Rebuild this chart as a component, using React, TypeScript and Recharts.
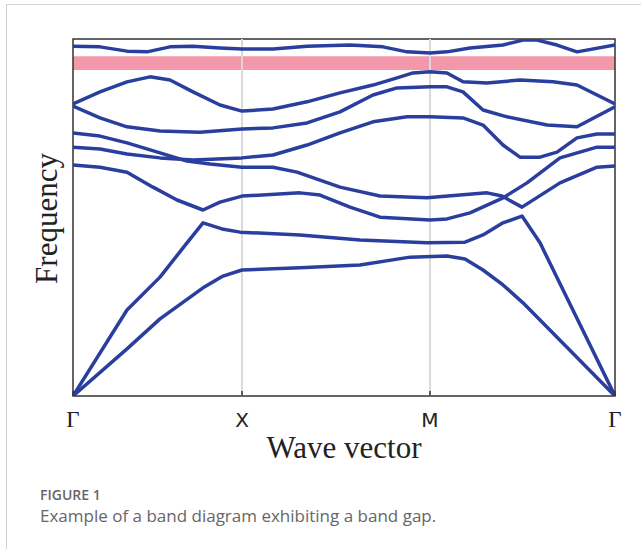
import {
  LineChart,
  Line,
  XAxis,
  YAxis,
  ReferenceArea,
  ReferenceLine,
  Label,
} from 'recharts';

// path positions along the Brillouin zone (plot units) and their symbols
const pathTicks = [0, 169, 357, 542];
const pathLabels = ['Γ', 'X', 'M', 'Γ'];

// band gap limits (normalised frequency)
const gapLow = 0.913;
const gapHigh = 0.952;

// bands as [k, frequency] pairs
const band1 = [
  [0, 0], [54, 0.132], [87, 0.216], [130, 0.303], [150, 0.336], [169, 0.353],
  [227, 0.359], [287, 0.367], [337, 0.389], [374, 0.392], [392, 0.384],
  [410, 0.353], [430, 0.311], [450, 0.261], [542, 0],
];
const band2 = [
  [0, 0], [54, 0.241], [87, 0.333], [114, 0.429], [130, 0.485], [149, 0.468],
  [167, 0.459], [227, 0.451], [287, 0.437], [354, 0.429], [392, 0.431],
  [410, 0.451], [430, 0.485], [449, 0.504], [467, 0.429], [542, 0],
];
const band3 = [
  [0, 0.647], [27, 0.641], [54, 0.627], [80, 0.585], [104, 0.549], [130, 0.521],
  [147, 0.543], [169, 0.56], [227, 0.569], [247, 0.563], [277, 0.529],
  [307, 0.501], [357, 0.493], [374, 0.496], [397, 0.513], [430, 0.555],
  [454, 0.597], [487, 0.667], [524, 0.697], [542, 0.697],
];
const band4 = [
  [0, 0.737], [27, 0.728], [54, 0.709], [87, 0.681], [114, 0.658], [137, 0.65],
  [169, 0.641], [200, 0.641], [224, 0.627], [267, 0.585], [307, 0.56],
  [354, 0.555], [414, 0.569], [429, 0.56], [449, 0.529], [487, 0.597],
  [524, 0.641], [542, 0.644],
];
const band5 = [
  [0, 0.697], [27, 0.692], [54, 0.678], [87, 0.667], [120, 0.661], [169, 0.667],
  [200, 0.675], [234, 0.703], [267, 0.737], [300, 0.768], [334, 0.782],
  [357, 0.782], [390, 0.779], [410, 0.759], [430, 0.703], [447, 0.669],
  [467, 0.669], [484, 0.683], [504, 0.723], [524, 0.734], [542, 0.734],
];
const band6 = [
  [0, 0.812], [27, 0.779], [54, 0.754], [87, 0.742], [127, 0.739], [169, 0.748],
  [200, 0.751], [234, 0.765], [267, 0.796], [300, 0.843], [324, 0.863],
  [357, 0.866], [374, 0.866], [390, 0.852], [410, 0.801], [434, 0.782],
  [474, 0.759], [504, 0.754], [542, 0.81],
];
const band7 = [
  [0, 0.818], [27, 0.852], [54, 0.88], [77, 0.894], [97, 0.885], [120, 0.852],
  [147, 0.815], [169, 0.798], [200, 0.804], [234, 0.824], [267, 0.849],
  [300, 0.871], [324, 0.891], [340, 0.905], [357, 0.908], [374, 0.905],
  [390, 0.88], [414, 0.877], [447, 0.885], [480, 0.88], [504, 0.871], [542, 0.818],
];
const band8 = [
  [0, 0.98], [27, 0.978], [54, 0.966], [74, 0.964], [97, 0.978], [120, 0.98],
  [147, 0.975], [169, 0.972], [200, 0.972], [234, 0.98], [277, 0.983],
  [310, 0.978], [334, 0.964], [357, 0.961], [374, 0.964], [397, 0.975],
  [430, 0.983], [450, 0.997], [464, 0.997], [484, 0.983], [504, 0.964], [542, 0.983],
];

const bands = [band1, band2, band3, band4, band5, band6, band7, band8];

const BLUE = '#2a3f9d';
const AXIS = '#333';

function BottomTick(props: any) {
  const { x, y, index } = props;
  const label = pathLabels[index] ?? '';
  const greek = label === 'Γ';
  return (
    <g>
      <line x1={x} x2={x} y1={y - 5} y2={y} stroke={AXIS} strokeWidth={1.5} />
      <text
        x={x}
        y={y + 31}
        textAnchor="middle"
        fill="#222"
        fontSize={greek ? 23 : 20}
        fontFamily={greek ? '"Liberation Serif", serif' : '"DejaVu Sans", sans-serif'}
      >
        {label}
      </text>
    </g>
  );
}

function TopTick(props: any) {
  const { x, y } = props;
  return <line x1={x} x2={x} y1={y} y2={y + 5} stroke={AXIS} strokeWidth={1.5} />;
}

function FreqLabel(props: any) {
  const vb = props.viewBox || { x: 0, y: 39, width: 73, height: 357 };
  const cx = vb.x + 46;
  const cy = vb.y + vb.height / 2 + 1;
  return (
    <text
      x={cx}
      y={cy}
      transform={`rotate(-90, ${cx}, ${cy})`}
      textAnchor="middle"
      dominantBaseline="central"
      fill="#222"
      fontSize={31}
      fontFamily='"Liberation Serif", serif'
    >
      Frequency
    </text>
  );
}

export default function App() {
  return (
    <div style={{ position: 'absolute', left: 0, top: 0, width: 641, height: 549, background: '#fff' }}>
      <div
        style={{
          position: 'absolute',
          left: 6,
          top: 4,
          width: 634,
          height: 544,
          borderLeft: '1px solid #d2d2d2',
          borderTop: '1px solid #d2d2d2',
        }}
      />
      <LineChart
        width={641}
        height={480}
        margin={{ top: 39, right: 26, left: 0, bottom: 20 }}
        style={{ position: 'absolute', left: 0, top: 0 }}
      >
        <XAxis
          xAxisId="bottom"
          dataKey="k"
          type="number"
          domain={[0, 542]}
          ticks={pathTicks}
          height={64}
          tickSize={0}
          tickMargin={0}
          axisLine={false}
          tickLine={false}
          tick={<BottomTick />}
          interval={0}
          allowDataOverflow
        >
          <Label
            value="Wave vector"
            position="insideBottom"
            offset={2}
            fill="#222"
            fontSize={31}
            fontFamily='"Liberation Serif", serif'
          />
        </XAxis>
        <XAxis
          xAxisId="top"
          orientation="top"
          dataKey="k"
          type="number"
          domain={[0, 542]}
          ticks={pathTicks}
          height={0}
          tickSize={0}
          tickMargin={0}
          axisLine={false}
          tickLine={false}
          tick={<TopTick />}
          interval={0}
          allowDataOverflow
        />
        <YAxis
          yAxisId="f"
          type="number"
          domain={[0, 1]}
          width={73}
          tick={false}
          tickLine={false}
          axisLine={false}
          allowDataOverflow
        >
          <Label content={<FreqLabel />} />
        </YAxis>
        <ReferenceLine xAxisId="bottom" yAxisId="f" x={pathTicks[1]} stroke="#d9d9d9" strokeWidth={2} />
        <ReferenceLine xAxisId="bottom" yAxisId="f" x={pathTicks[2]} stroke="#d9d9d9" strokeWidth={2} />
        <ReferenceArea
          xAxisId="bottom"
          yAxisId="f"
          x1={0}
          x2={542}
          y1={gapLow}
          y2={gapHigh}
          fill="#f397ab"
          fillOpacity={1}
          stroke="none"
        />
        {bands.map((band, i) => (
          <Line
            key={i}
            xAxisId="bottom"
            yAxisId="f"
            data={band.map(([k, f]) => ({ k, f }))}
            dataKey="f"
            type="linear"
            stroke={BLUE}
            strokeWidth={3.5}
            strokeLinejoin="round"
            dot={false}
            activeDot={false}
            isAnimationActive={false}
          />
        ))}
        <ReferenceArea
          xAxisId="bottom"
          yAxisId="f"
          x1={0}
          x2={542}
          y1={0}
          y2={1}
          fill="none"
          stroke={AXIS}
          strokeWidth={1.5}
        />
      </LineChart>
      <div
        style={{
          position: 'absolute',
          left: 40,
          top: 486,
          fontFamily: '"Open Sans", sans-serif',
          fontWeight: 600,
          fontSize: 14,
          lineHeight: '17px',
          color: '#666',
        }}
      >
        FIGURE 1
      </div>
      <div
        style={{
          position: 'absolute',
          left: 40,
          top: 505,
          fontFamily: '"Open Sans", sans-serif',
          fontSize: 17,
          lineHeight: '21px',
          color: '#666',
          whiteSpace: 'nowrap',
        }}
      >
        Example of a band diagram exhibiting a band gap.
      </div>
    </div>
  );
}
